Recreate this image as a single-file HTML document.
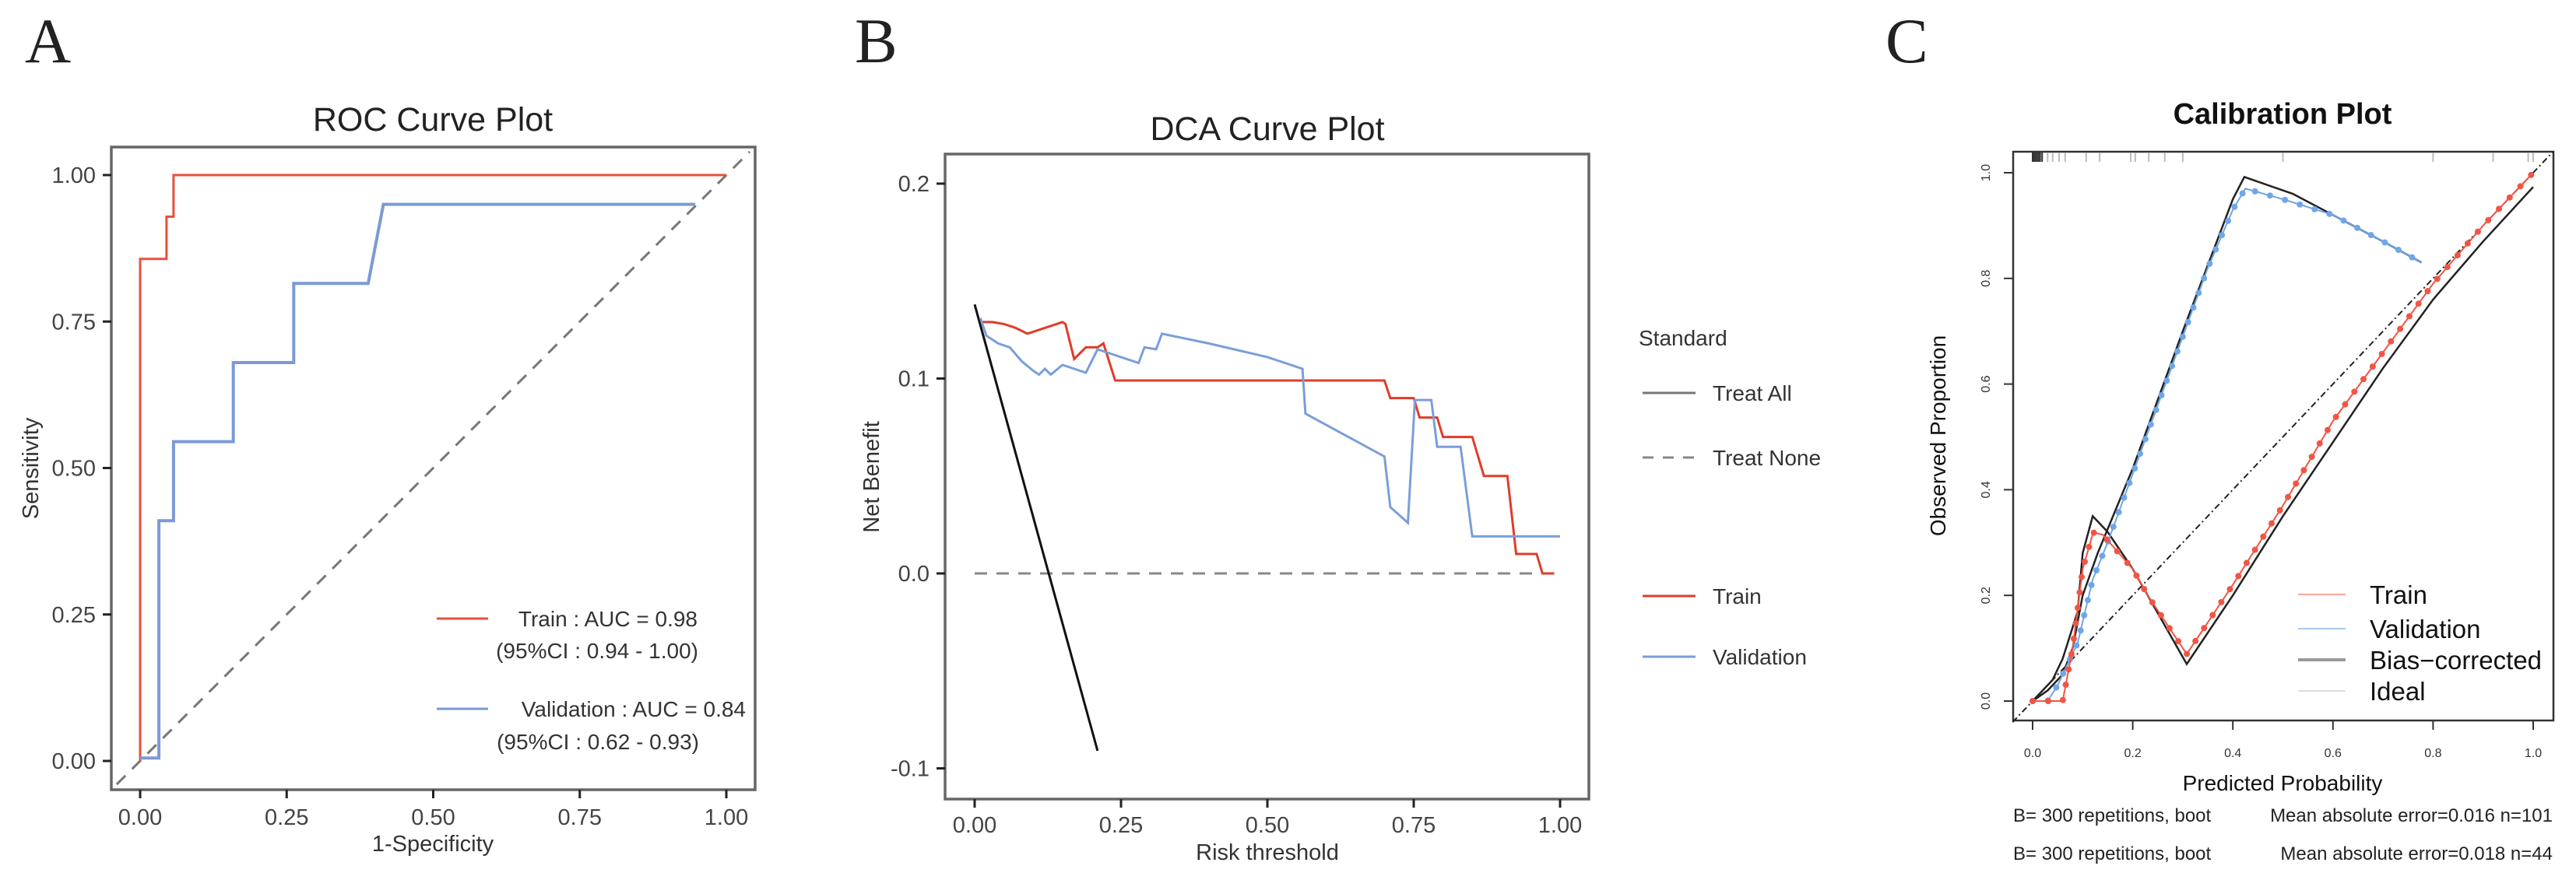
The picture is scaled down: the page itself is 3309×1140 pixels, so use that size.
<!DOCTYPE html>
<html><head><meta charset="utf-8"><style>
html,body{margin:0;padding:0;background:#fff}
svg{display:block;font-family:"Liberation Sans",sans-serif}
</style></head><body>
<svg id="fig" width="3309" height="1140" viewBox="0 0 3309 1140" xmlns="http://www.w3.org/2000/svg">
<rect width="3309" height="1140" fill="#fff"/>
<text x="32" y="80" font-family="Liberation Serif,serif" font-size="82" fill="#222">A</text>
<text x="1098" y="80" font-family="Liberation Serif,serif" font-size="82" fill="#222">B</text>
<text x="2422" y="80" font-family="Liberation Serif,serif" font-size="82" fill="#222">C</text>
<g id="roc"></g>
<g id="dca"></g>
<g id="cal"></g>
</svg>
<script>
// ---- ROC data ----
const rocTicks = [0, 0.25, 0.5, 0.75, 1];
const rocTickLabels = ["0.00","0.25","0.50","0.75","1.00"];
const rocTrainFpr = [0, 0, 0.045, 0.045, 0.057, 0.057, 1];
const rocTrainTpr = [0, 0.857, 0.857, 0.929, 0.929, 1, 1];
const rocValFpr = [0, 0.032, 0.032, 0.057, 0.057, 0.159, 0.159, 0.262, 0.262, 0.389, 0.415, 0.947];
const rocValTpr = [0.005, 0.005, 0.41, 0.41, 0.545, 0.545, 0.68, 0.68, 0.815, 0.815, 0.95, 0.95];
// ---- DCA data ----
const dcaXTicks = [0, 0.25, 0.5, 0.75, 1];
const dcaXTickLabels = ["0.00","0.25","0.50","0.75","1.00"];
const dcaYTicks = [-0.1, 0, 0.1, 0.2];
const dcaYTickLabels = ["-0.1","0.0","0.1","0.2"];
const dcaAllX = [0, 0.21];
const dcaAllY = [0.138, -0.091];
const dcaNoneX = [0, 0.99];
const dcaNoneY = [0, 0];
const dcaTrainX = [0.01,0.03,0.05,0.07,0.09,0.11,0.13,0.15,0.155,0.17,0.19,0.21,0.22,0.24,0.70,0.71,0.75,0.76,0.79,0.80,0.85,0.87,0.91,0.925,0.96,0.97,0.99];
const dcaTrainY = [0.129,0.129,0.128,0.126,0.123,0.125,0.127,0.129,0.128,0.11,0.116,0.116,0.118,0.099,0.099,0.09,0.09,0.08,0.08,0.07,0.07,0.05,0.05,0.01,0.01,0,0];
const dcaValX = [0.01,0.02,0.04,0.06,0.08,0.10,0.11,0.12,0.13,0.15,0.17,0.19,0.21,0.28,0.29,0.31,0.32,0.40,0.50,0.56,0.565,0.62,0.70,0.71,0.74,0.752,0.78,0.79,0.83,0.85,1.0];
const dcaValY = [0.131,0.122,0.118,0.116,0.109,0.104,0.102,0.105,0.102,0.107,0.105,0.103,0.115,0.108,0.116,0.115,0.123,0.118,0.111,0.105,0.082,0.073,0.06,0.034,0.026,0.089,0.089,0.065,0.065,0.019,0.019];
// ---- Calibration data ----
const calTicks = [0, 0.2, 0.4, 0.6, 0.8, 1];
const calTickLabels = ["0.0","0.2","0.4","0.6","0.8","1.0"];
const calValX = [0,0.03,0.05,0.07,0.09,0.10,0.12,0.15,0.20,0.25,0.30,0.35,0.40,0.425,0.50,0.60,0.70,0.777];
const calValY = [0,0,0.03,0.07,0.11,0.15,0.23,0.30,0.43,0.56,0.69,0.82,0.93,0.97,0.95,0.92,0.87,0.83];
const calTrainX = [0,0.06,0.08,0.10,0.121,0.14,0.20,0.23,0.308,0.40,0.50,0.60,0.70,0.80,0.90,1.0];
const calTrainY = [0,0,0.10,0.25,0.319,0.315,0.25,0.20,0.089,0.22,0.37,0.53,0.66,0.79,0.90,1.0];
const calBcValX = [0,0.03,0.06,0.08,0.10,0.13,0.20,0.30,0.40,0.423,0.52,0.60,0.70,0.777];
const calBcValY = [0,0.02,0.05,0.10,0.20,0.28,0.44,0.70,0.95,0.992,0.96,0.92,0.87,0.83];
const calBcTrainX = [0,0.04,0.06,0.09,0.10,0.12,0.15,0.20,0.308,0.40,0.50,0.60,0.70,0.80,0.90,1.0];
const calBcTrainY = [0,0.04,0.08,0.17,0.28,0.35,0.32,0.25,0.07,0.20,0.35,0.49,0.63,0.76,0.87,0.973];
const calRug = [0,0.003,0.006,0.009,0.012,0.015,0.019,0.03,0.04,0.053,0.065,0.107,0.134,0.196,0.205,0.232,0.264,0.30,0.50,0.80,0.92,0.99,1.0];

const NS = "http://www.w3.org/2000/svg";
function mk(parent, tag, attrs, txt){
  const e = document.createElementNS(NS, tag);
  for (const k in attrs) e.setAttribute(k, attrs[k]);
  if (txt !== undefined) e.textContent = txt;
  parent.appendChild(e);
  return e;
}
function pathD(xs, ys, sx, sy){
  return xs.map((x,i)=>(i?"L":"M")+sx(x).toFixed(1)+","+sy(ys[i]).toFixed(1)).join("");
}

// ===== ROC =====
(function(){
  const g = document.getElementById("roc");
  const sx = v => 180 + v*753, sy = v => 978 - v*753;
  const t = mk(g,"text",{x:556,y:168,"font-size":43,"text-anchor":"middle",fill:"#222"},"ROC Curve Plot");
   
  const f = mk(g,"rect",{x:143,y:189,width:827,height:826,fill:"none",stroke:"#666","stroke-width":3.5});
   
  rocTicks.forEach((v,i)=>{
    const tx = mk(g,"line",{x1:sx(v),x2:sx(v),y1:1015,y2:1026,stroke:"#222","stroke-width":3});
     
    const lx = mk(g,"text",{x:sx(v),y:1060,"font-size":29,"text-anchor":"middle",fill:"#444"},rocTickLabels[i]);
     
    const ty = mk(g,"line",{x1:132,x2:143,y1:sy(v),y2:sy(v),stroke:"#222","stroke-width":3});
     
    const ly = mk(g,"text",{x:123,y:sy(v)+10,"font-size":29,"text-anchor":"end",fill:"#444"},rocTickLabels[i]);
     
  });
  const xt = mk(g,"text",{x:556,y:1094,"font-size":29,"text-anchor":"middle",fill:"#333"},"1-Specificity");
   
  const yt = mk(g,"text",{x:0,y:0,"font-size":29,"text-anchor":"middle",fill:"#333",transform:"translate(49,602) rotate(-90)"},"Sensitivity");
   
  const dg = mk(g,"line",{x1:sx(-0.04),y1:sy(-0.04),x2:sx(1.04),y2:sy(1.04),stroke:"#777","stroke-width":3,"stroke-dasharray":"16,12"});
   
  const tr = mk(g,"path",{d:pathD(rocTrainFpr,rocTrainTpr,sx,sy),fill:"none",stroke:"#e8503c","stroke-width":3});
   
  const va = mk(g,"path",{d:pathD(rocValFpr,rocValTpr,sx,sy),fill:"none",stroke:"#7b9ad6","stroke-width":4});
   
  const l1 = mk(g,"line",{x1:561,x2:627,y1:795,y2:795,stroke:"#e8503c","stroke-width":3});
   
  const t1 = mk(g,"text",{x:896,y:805,"font-size":28,"text-anchor":"end",fill:"#333"},"Train : AUC = 0.98");
   
  const c1 = mk(g,"text",{x:897,y:846,"font-size":28,"text-anchor":"end",fill:"#333"},"(95%CI : 0.94 - 1.00)");
   
  const l2 = mk(g,"line",{x1:561,x2:627,y1:911,y2:911,stroke:"#7b9ad6","stroke-width":3});
   
  const t2 = mk(g,"text",{x:958,y:921,"font-size":28,"text-anchor":"end",fill:"#333"},"Validation : AUC = 0.84");
   
  const c2 = mk(g,"text",{x:898,y:963,"font-size":28,"text-anchor":"end",fill:"#333"},"(95%CI : 0.62 - 0.93)");
   
})();

// ===== DCA =====
(function(){
  const g = document.getElementById("dca");
  const sx = v => 1252 + v*752, sy = v => 737 - v*2505;
  const t = mk(g,"text",{x:1628,y:180,"font-size":43,"text-anchor":"middle",fill:"#222"},"DCA Curve Plot");
   
  const f = mk(g,"rect",{x:1214,y:198,width:827,height:829,fill:"none",stroke:"#666","stroke-width":3.5});
   
  dcaXTicks.forEach((v,i)=>{
    const tx = mk(g,"line",{x1:sx(v),x2:sx(v),y1:1027,y2:1038,stroke:"#222","stroke-width":3});
     
    const lx = mk(g,"text",{x:sx(v),y:1070,"font-size":29,"text-anchor":"middle",fill:"#444"},dcaXTickLabels[i]);
     
  });
  dcaYTicks.forEach((v,i)=>{
    const ty = mk(g,"line",{x1:1203,x2:1214,y1:sy(v),y2:sy(v),stroke:"#222","stroke-width":3});
     
    const ly = mk(g,"text",{x:1194,y:sy(v)+10,"font-size":29,"text-anchor":"end",fill:"#444"},dcaYTickLabels[i]);
     
  });
  const xt = mk(g,"text",{x:1628,y:1105,"font-size":29,"text-anchor":"middle",fill:"#333"},"Risk threshold");
   
  const yt = mk(g,"text",{x:0,y:0,"font-size":29,"text-anchor":"middle",fill:"#333",transform:"translate(1129,613) rotate(-90)"},"Net Benefit");
   
  const none = mk(g,"path",{d:pathD(dcaNoneX,dcaNoneY,sx,sy),fill:"none",stroke:"#888","stroke-width":3,"stroke-dasharray":"16,12"});
   
  const all = mk(g,"path",{d:pathD(dcaAllX,dcaAllY,sx,sy),fill:"none",stroke:"#111","stroke-width":3});
   
  const tr = mk(g,"path",{d:pathD(dcaTrainX,dcaTrainY,sx,sy),fill:"none",stroke:"#e03c2a","stroke-width":3});
   
  const va = mk(g,"path",{d:pathD(dcaValX,dcaValY,sx,sy),fill:"none",stroke:"#7b9ed9","stroke-width":3});
   
  const st = mk(g,"text",{x:2105,y:444,"font-size":28,fill:"#333"},"Standard");
   
  const items = [[505,"Treat All","#777",""],[588,"Treat None","#888","14,12"],[766,"Train","#e03c2a",""],[844,"Validation","#7b9ed9",""]];
  items.forEach(it=>{
    const ln = mk(g,"line",{x1:2110,x2:2178,y1:it[0],y2:it[0],stroke:it[2],"stroke-width":3,"stroke-dasharray":it[3]||"none"});
     
    const tx = mk(g,"text",{x:2200,y:it[0]+10,"font-size":28,fill:"#333"},it[1]);
     
  });
})();

// ===== Calibration =====
(function(){
  const g = document.getElementById("cal");
  const sx = v => 2611 + v*643, sy = v => 901 - v*679;
  const t = mk(g,"text",{x:2932,y:159,"font-size":38,"font-weight":"bold","text-anchor":"middle",fill:"#111"},"Calibration Plot");
   
  const f = mk(g,"rect",{x:2586,y:195,width:694,height:731,fill:"none",stroke:"#333","stroke-width":2.5});
   
  calTicks.forEach((v,i)=>{
    const tx = mk(g,"line",{x1:sx(v),x2:sx(v),y1:926,y2:938,stroke:"#333","stroke-width":2});
     
    const lx = mk(g,"text",{x:sx(v),y:973,"font-size":16,"text-anchor":"middle",fill:"#333"},calTickLabels[i]);
     
    const ty = mk(g,"line",{x1:2574,x2:2586,y1:sy(v),y2:sy(v),stroke:"#333","stroke-width":2});
     
    const ly = mk(g,"text",{x:0,y:0,"font-size":16,"text-anchor":"middle",fill:"#333",transform:"translate(2556,"+sy(v)+") rotate(-90)"},calTickLabels[i]);
     
  });
  calRug.forEach(v=>{
    const r = mk(g,"line",{x1:sx(v),x2:sx(v),y1:196,y2:208,stroke:v<0.02?"#333":"#bbb","stroke-width":2});
     
  });
  const xt = mk(g,"text",{x:2932,y:1016,"font-size":28,"text-anchor":"middle",fill:"#111"},"Predicted Probability");
   
  const yt = mk(g,"text",{x:0,y:0,"font-size":28,"text-anchor":"middle",fill:"#111",transform:"translate(2499,560) rotate(-90)"},"Observed Proportion");
   
  const ideal = mk(g,"line",{x1:sx(-0.04),y1:sy(-0.04),x2:sx(1.04),y2:sy(1.04),stroke:"#222","stroke-width":2,"stroke-dasharray":"8,4,2,4"});
   
  const b1 = mk(g,"path",{d:pathD(calBcValX,calBcValY,sx,sy),fill:"none",stroke:"#222","stroke-width":2.5});
   
  const b2 = mk(g,"path",{d:pathD(calBcTrainX,calBcTrainY,sx,sy),fill:"none",stroke:"#222","stroke-width":2.5});
   
  function dotted(xs,ys,col,name){
    const p = mk(g,"path",{d:pathD(xs,ys,sx,sy),fill:"none",stroke:col,"stroke-width":2});
     
    const path = p, len = path.getTotalLength();
    for (let s=0; s<=len; s+=20){
      const pt = path.getPointAtLength(s);
      const c = mk(g,"circle",{cx:pt.x,cy:pt.y,r:4,fill:col});
       
    }
  }
  dotted(calValX,calValY,"#6fa6e8","calibration-validation-curve");
  dotted(calTrainX,calTrainY,"#f05545","calibration-train-curve");
  const leg = [[764,"Train","#f6a79e",2],[808,"Validation","#a9c9f0",2],[848,"Bias\u2212corrected","#999",4],[888,"Ideal","#ddd",2]];
  leg.forEach(it=>{
    const ln = mk(g,"line",{x1:2952,x2:3013,y1:it[0],y2:it[0],stroke:it[2],"stroke-width":it[3]});
     
    const tx = mk(g,"text",{x:3044,y:it[0]+12,"font-size":33,fill:"#111"},it[1]);
     
  });
  const n1 = mk(g,"text",{x:2586,y:1056,"font-size":24,fill:"#222"},"B= 300 repetitions, boot");
   
  const n2 = mk(g,"text",{x:3279,y:1056,"font-size":24,"text-anchor":"end",fill:"#222"},"Mean absolute error=0.016 n=101");
   
  const n3 = mk(g,"text",{x:2586,y:1105,"font-size":24,fill:"#222"},"B= 300 repetitions, boot");
   
  const n4 = mk(g,"text",{x:3279,y:1105,"font-size":24,"text-anchor":"end",fill:"#222"},"Mean absolute error=0.018 n=44");
   
})();
</script>
</body></html>
